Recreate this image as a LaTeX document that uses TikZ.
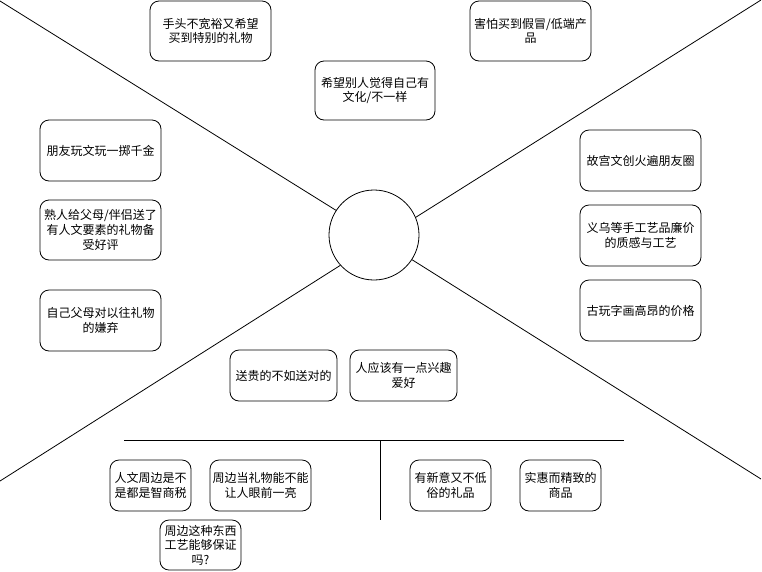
\documentclass[tikz,border=0pt]{standalone}
\usepackage{fontspec}
\setmainfont{Noto Sans CJK SC}
\begin{document}
\begin{tikzpicture}[x=1pt,y=-1pt,
  box/.style={draw=black, line width=0.8pt, rounded corners=9pt, inner sep=0pt,
    align=center, font=\fontsize{12}{14.6}\selectfont},
  ln/.style={draw=black, line width=0.8pt}]
\useasboundingbox[fill=white] (0,0) rectangle (762,571);
% centre circle
\node[draw=black, line width=0.8pt, circle, minimum size=90pt, inner sep=0pt] (c) at (374,235) {};
% edge points
\coordinate (tl) at (0,1);
\coordinate (tr) at (761,0);
\coordinate (bl) at (0,481);
\coordinate (br) at (761,479);
\draw[ln] (c.147.7) -- (tl);
\draw[ln] (c.23) -- (tr);
\draw[ln] (c.222) -- (bl);
\draw[ln] (c.327.7) -- (br);
% divider lines
\coordinate (h1) at (124,440);
\coordinate (h2) at (624,440);
\coordinate (v1) at (380,440);
\coordinate (v2) at (380,520);
\draw[ln] (h1) -- (h2);
\draw[ln] (v1) -- (v2);
% top boxes
\node[box, minimum width=121pt, minimum height=60pt] (t1) at (210.5,31) {手头不宽裕又希望\\买到特别的礼物};
\node[box, minimum width=120pt, minimum height=59pt] (t2) at (375,90.5) {希望别人觉得自己有\\文化/不一样};
\node[box, minimum width=121pt, minimum height=60pt] (t3) at (530.5,31) {害怕买到假冒/低端产\\品};
% left boxes
\node[box, minimum width=121pt, minimum height=61pt] (l1) at (100.5,150.5) {朋友玩文玩一掷千金};
\node[box, minimum width=121pt, minimum height=60pt] (l2) at (100.5,230) {熟人给父母/伴侣送了\\有人文要素的礼物备\\受好评};
\node[box, minimum width=121pt, minimum height=61pt] (l3) at (100.5,320.5) {自己父母对以往礼物\\的嫌弃};
% right boxes
\node[box, minimum width=121pt, minimum height=61pt] (r1) at (640.5,160.5) {故宫文创火遍朋友圈};
\node[box, minimum width=121pt, minimum height=61pt] (r2) at (640.5,235.5) {义乌等手工艺品廉价\\的质感与工艺};
\node[box, minimum width=121pt, minimum height=61pt] (r3) at (640.5,310.5) {古玩字画高昂的价格};
% middle boxes
\node[box, minimum width=107pt, minimum height=51pt] (m1) at (283.5,375.5) {送贵的不如送对的};
\node[box, minimum width=107pt, minimum height=51pt] (m2) at (403.5,375.5) {人应该有一点兴趣\\爱好};
% bottom left
\node[box, minimum width=81pt, minimum height=51pt] (b1) at (150.5,485.5) {人文周边是不\\是都是智商税};
\node[box, minimum width=101pt, minimum height=51pt] (b2) at (260.5,485.5) {周边当礼物能不能\\让人眼前一亮};
\node[box, minimum width=81pt, minimum height=50pt] (b3) at (200.5,545) {周边这种东西\\工艺能够保证\\吗?};
% bottom right
\node[box, minimum width=81pt, minimum height=51pt] (b4) at (450.5,485.5) {有新意又不低\\俗的礼品};
\node[box, minimum width=81pt, minimum height=51pt] (b5) at (560.5,485.5) {实惠而精致的\\商品};
\end{tikzpicture}
\end{document}
